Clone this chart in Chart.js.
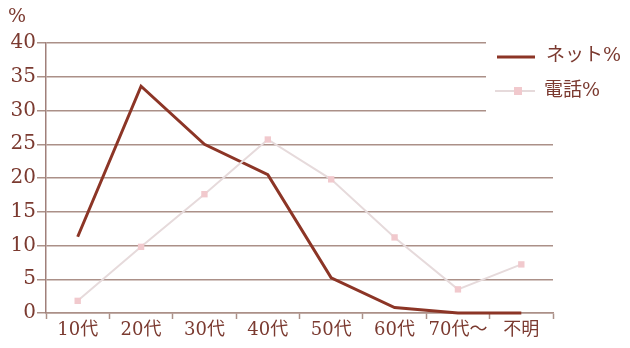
<!DOCTYPE html>
<html>
<head>
<meta charset="utf-8">
<script src="https://cdn.jsdelivr.net/npm/chart.js@4.4.1/dist/chart.umd.min.js"></script>
<style>
  html, body { margin: 0; padding: 0; background: #fff; }
  #wrap { width: 630px; height: 348px; }
</style>
</head>
<body>
<div id="wrap"><canvas id="c" width="630" height="348"></canvas></div>
<script>
/* ── data ─────────────────────────────────────────── */
const ageGroups  = ['10代', '20代', '30代', '40代', '50代', '60代', '70代～', '不明'];
const netPct     = [11.3, 33.6, 25.0, 20.5, 5.2, 0.8, 0, 0];
const phonePct   = [1.8, 9.8, 17.6, 25.7, 19.8, 11.2, 3.5, 7.2];
const seriesNames = ['ネット%', '電話%'];

/* ── styles ───────────────────────────────────────── */
const TEXT   = '#7b3a30';
const GRID   = '#ab9088';
const NET    = '#8c3526';
const PHONE  = '#e6dadb';
const PHONEM = '#f1c9cd';
const FONT   = '"DejaVu Serif", "Liberation Serif", "Noto Sans CJK JP", serif';

/* legend box overlaying the top right of the plot + "%" unit */
const overlay = {
  id: 'overlay',
  afterDraw(chart) {
    const { ctx } = chart;
    ctx.save();
    ctx.fillStyle = '#fff';
    ctx.fillRect(486, 34, 144, 88);

    ctx.lineCap = 'butt';
    ctx.strokeStyle = NET;
    ctx.lineWidth = 3;
    ctx.beginPath(); ctx.moveTo(497, 57); ctx.lineTo(535, 57); ctx.stroke();

    ctx.strokeStyle = PHONE;
    ctx.lineWidth = 2;
    ctx.beginPath(); ctx.moveTo(495, 91); ctx.lineTo(535, 91); ctx.stroke();
    ctx.fillStyle = PHONEM;
    ctx.fillRect(514, 87, 8, 8);

    ctx.fillStyle = TEXT;
    ctx.textBaseline = 'middle';
    ctx.font = `19px ${FONT}`;
    ctx.fillText(seriesNames[0], 546, 56);
    ctx.fillText(seriesNames[1], 544, 91);

    ctx.font = `19px ${FONT}`;
    ctx.fillText('%', 8, 17);
    ctx.restore();
  },
};

new Chart(document.getElementById('c'), {
  type: 'line',
  data: {
    labels: ageGroups,
    datasets: [
      {
        label: seriesNames[1],
        data: phonePct,
        borderColor: PHONE,
        backgroundColor: PHONEM,
        borderWidth: 2,
        pointStyle: 'rect',
        pointRadius: 4.5,
        pointBorderWidth: 0,
        pointBackgroundColor: PHONEM,
        tension: 0,
        clip: false,
      },
      {
        label: seriesNames[0],
        data: netPct,
        borderColor: NET,
        backgroundColor: NET,
        borderWidth: 3,
        pointRadius: 0,
        tension: 0,
        clip: false,
      },
    ],
  },
  options: {
    responsive: false,
    animation: false,
    layout: { padding: { top: 43, right: 77, left: 0, bottom: 0 } },
    plugins: { legend: { display: false }, tooltip: { enabled: false } },
    scales: {
      x: {
        offset: true,
        grid: { drawOnChartArea: false, color: GRID, tickLength: 6, tickWidth: 1.5, offset: true },
        border: { color: GRID, width: 1.5 },
        ticks: { color: TEXT, font: { family: FONT, size: 18 }, padding: 1, maxRotation: 0 },
        afterFit(scale) { scale.height = 35; },
      },
      y: {
        min: 0,
        max: 40,
        grid: { color: GRID, lineWidth: 1.5, tickLength: 9 },
        border: { color: '#a0807a', width: 1.5 },
        ticks: { stepSize: 5, color: TEXT, font: { family: FONT, size: 20 }, padding: 1 },
        afterFit(scale) { scale.width = 46; },
      },
    },
  },
  plugins: [overlay],
});
</script>
</body>
</html>
